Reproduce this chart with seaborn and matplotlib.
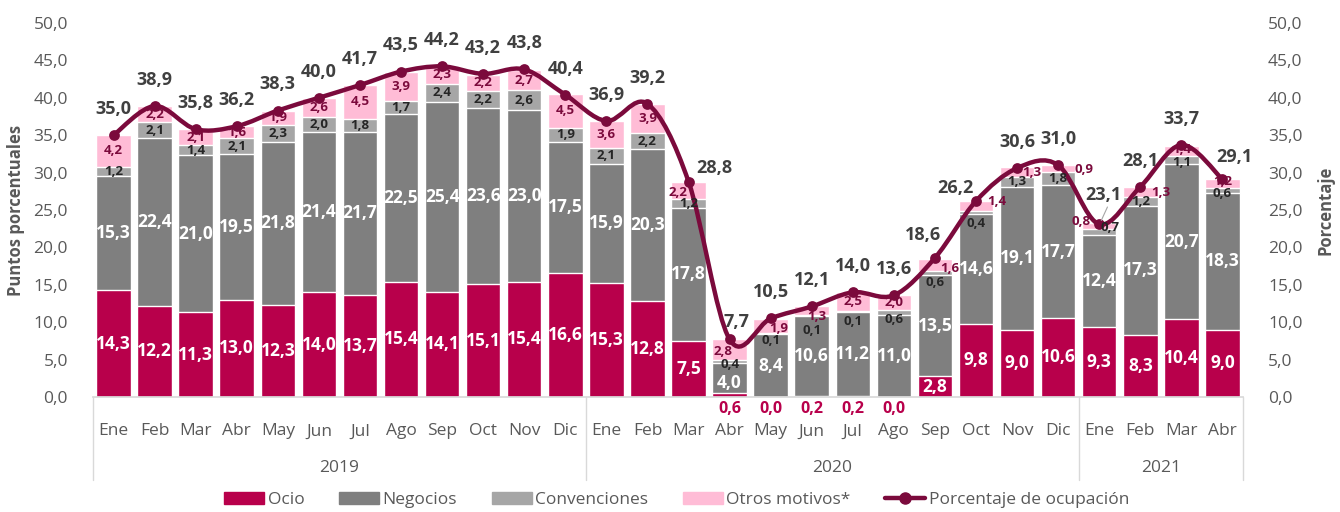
import numpy as np
import pandas as pd
import matplotlib
matplotlib.use("Agg")
import matplotlib.pyplot as plt
import matplotlib.transforms as mtransforms
from matplotlib.path import Path
from matplotlib.patches import PathPatch, Patch
from matplotlib.lines import Line2D
import seaborn as sns

# data
meses = ["Ene", "Feb", "Mar", "Abr", "May", "Jun", "Jul", "Ago", "Sep", "Oct", "Nov", "Dic",
         "Ene", "Feb", "Mar", "Abr", "May", "Jun", "Jul", "Ago", "Sep", "Oct", "Nov", "Dic",
         "Ene", "Feb", "Mar", "Abr"]
anios = ["2019"] * 12 + ["2020"] * 12 + ["2021"] * 4
ocio = [14.3, 12.2, 11.3, 13.0, 12.3, 14.0, 13.7, 15.4, 14.1, 15.1, 15.4, 16.6,
        15.3, 12.8, 7.5, 0.6, 0.0, 0.2, 0.2, 0.0, 2.8, 9.8, 9.0, 10.6,
        9.3, 8.3, 10.4, 9.0]
negocios = [15.3, 22.4, 21.0, 19.5, 21.8, 21.4, 21.7, 22.5, 25.4, 23.6, 23.0, 17.5,
            15.9, 20.3, 17.8, 4.0, 8.4, 10.6, 11.2, 11.0, 13.5, 14.6, 19.1, 17.7,
            12.4, 17.3, 20.7, 18.3]
convenciones = [1.2, 2.1, 1.4, 2.1, 2.3, 2.0, 1.8, 1.7, 2.4, 2.2, 2.6, 1.9,
                2.1, 2.2, 1.2, 0.4, 0.1, 0.1, 0.1, 0.6, 0.6, 0.4, 1.3, 1.8,
                0.7, 1.2, 1.1, 0.6]
otros = [4.2, 2.2, 2.1, 1.6, 1.9, 2.6, 4.5, 3.9, 2.3, 2.2, 2.7, 4.5,
         3.6, 3.9, 2.2, 2.8, 1.9, 1.3, 2.5, 2.0, 1.6, 1.4, 1.3, 0.9,
         0.8, 1.3, 1.4, 1.2]
ocupacion = [35.0, 38.9, 35.8, 36.2, 38.3, 40.0, 41.7, 43.5, 44.2, 43.2, 43.8, 40.4,
             36.9, 39.2, 28.8, 7.7, 10.5, 12.1, 14.0, 13.6, 18.6, 26.2, 30.6, 31.0,
             23.1, 28.1, 33.7, 29.1]

C_OCIO = "#B8004B"
C_NEG = "#7F7F7F"
C_CONV = "#A6A6A6"
C_OTROS = "#FFBCD6"
C_LINE = "#7B0A3C"
C_TXT = "#595959"
C_LAB = "#404040"

sns.set_theme(style="white")
plt.rcParams["font.family"] = ["Open Sans", "DejaVu Sans"]

def fmt(v):
    return f"{v:.1f}".replace(".", ",")

df = pd.DataFrame({"mes": meses, "anio": anios, "ocio": ocio, "neg": negocios,
                   "conv": convenciones, "otros": otros, "ocup": ocupacion})
df["key"] = df["anio"] + "-" + df["mes"]
df["c1"] = df["ocio"]
df["c2"] = df["c1"] + df["neg"]
df["c3"] = df["c2"] + df["conv"]
df["c4"] = df["c3"] + df["otros"]
n = len(df)
xs = np.arange(n)

fig = plt.figure(figsize=(13.4, 5.12), dpi=100)
ax = fig.add_axes([0.0694, 0.2246, 0.8582, 0.7305])

order = list(df["key"])
for col, color in [("c4", C_OTROS), ("c3", C_CONV), ("c2", C_NEG), ("c1", C_OCIO)]:
    sns.barplot(data=df, x="key", y=col, order=order, color=color, saturation=1,
                width=0.84, errorbar=None, ax=ax, zorder=2)

# smooth line (bezier through the points, like excel smoothing)
y = df["ocup"].values
pts = np.column_stack([xs, y])
verts = [tuple(pts[0])]
codes = [Path.MOVETO]
for i in range(n - 1):
    p_prev = pts[i - 1] if i > 0 else pts[i]
    p_next = pts[i + 2] if i + 2 < n else pts[i + 1]
    c1 = pts[i] + (pts[i + 1] - p_prev) / 6
    c2 = pts[i + 1] - (p_next - pts[i]) / 6
    verts += [tuple(c1), tuple(c2), tuple(pts[i + 1])]
    codes += [Path.CURVE4] * 3
ax.add_patch(PathPatch(Path(verts, codes), fill=False, lw=3.2, edgecolor=C_LINE,
                       capstyle="round", joinstyle="round", zorder=5))
sns.scatterplot(x=xs, y=y, color=C_LINE, s=60, edgecolor=C_LINE, linewidth=0, zorder=6, ax=ax)

# labels: ocio
for i, v in enumerate(df["ocio"]):
    if v >= 2:
        ax.text(i, v / 2, fmt(v), ha="center", va="center", color="white",
                fontsize=12.5, fontweight="bold", zorder=7)
    else:
        ax.text(i, -1.6, fmt(v), ha="center", va="center", color=C_OCIO,
                fontsize=11.5, fontweight="bold", zorder=7, clip_on=False)

# labels: negocios
neg_nudge = {15: -0.7}
for i, v in enumerate(df["neg"]):
    ax.text(i, df["c1"][i] + v / 2 + neg_nudge.get(i, 0), fmt(v), ha="center", va="center",
            color="white", fontsize=12.5, fontweight="bold", zorder=7)

# labels: convenciones
conv_nudge = {15: (0, -0.45), 16: (0, -0.9), 17: (0, -2.0), 18: (0, -1.3), 19: (0, -0.9),
              20: (0, -1.3), 21: (0, -1.4), 24: (0.25, 0.6), 26: (0, -0.3), 27: (0, -0.35)}
for i, v in enumerate(df["conv"]):
    dx, dy = conv_nudge.get(i, (0, 0))
    ax.text(i + dx, df["c2"][i] + v / 2 + dy, fmt(v), ha="center", va="center",
            color="#262626", fontsize=9.5, fontweight="bold", zorder=7)

# labels: otros motivos
otros_nudge = {14: (-0.25, -0.3), 15: (-0.15, -0.3), 16: (0.2, -0.25), 17: (0.12, -0.8),
               20: (0.35, -0.5), 21: (0.5, 0.6), 22: (0.35, -0.1), 23: (0.62, -0.2),
               24: (-0.45, 0.6), 25: (0.5, -0.1), 26: (0, 0.25), 27: (0, 0.25)}
for i, v in enumerate(df["otros"]):
    dx, dy = otros_nudge.get(i, (0, 0))
    ax.text(i + dx, df["c3"][i] + v / 2 + dy, fmt(v), ha="center", va="center",
            color=C_LINE, fontsize=9.5, fontweight="bold", zorder=7)

# labels: ocupacion
line_nudge = {14: (0.63, 1.8), 15: (0.17, 2.3), 20: (-0.3, 3.1), 21: (-0.5, 1.7),
              24: (0.1, 3.9), 27: (0.3, 3.0)}
for i, v in enumerate(y):
    dx, dy = line_nudge.get(i, (0, 3.5))
    ax.text(i + dx, v + dy, fmt(v), ha="center", va="center", color=C_LAB,
            fontsize=13, fontweight="bold", zorder=8)
ax.plot([24.05, 24.2], [23.6, 25.4], color="#A6A6A6", lw=0.8, zorder=8)

ax.set_xlim(-0.5, n - 0.5)
ax.set_ylim(0, 50)
ticks = np.arange(0, 50.1, 5)
ax.set_yticks(ticks)
ax.set_yticklabels([fmt(t) for t in ticks], color=C_TXT, fontsize=12.5)
ax.set_xticks(xs)
ax.set_xticklabels(df["mes"], color=C_TXT, fontsize=12.5)
ax.tick_params(axis="x", length=0, pad=19)
ax.tick_params(axis="y", length=0, pad=18)
ax.set_xlabel("")
ax.set_ylabel("Puntos porcentuales", color=C_TXT, fontsize=12, fontweight="bold", labelpad=6)
for s in ["top", "right", "left"]:
    ax.spines[s].set_visible(False)
ax.spines["bottom"].set_color("#D9D9D9")
ax.grid(False)

ax2 = ax.twinx()
ax2.set_ylim(0, 50)
ax2.set_yticks(ticks)
ax2.set_yticklabels([fmt(t) for t in ticks], color=C_TXT, fontsize=12.5)
ax2.tick_params(axis="y", length=0, pad=18)
ax2.set_ylabel("Porcentaje", color=C_TXT, fontsize=12, fontweight="bold", labelpad=10)
for s in ax2.spines.values():
    s.set_visible(False)
ax2.grid(False)

# year groups under the months
trans = mtransforms.blended_transform_factory(ax.transData, ax.transAxes)
bounds = [-0.5, 11.5, 23.5, n - 0.5]
for b in bounds:
    ax.plot([b, b], [0, -0.222], transform=trans, color="#D9D9D9", lw=1, clip_on=False)
for lo, hi, lab in zip(bounds[:-1], bounds[1:], ["2019", "2020", "2021"]):
    ax.text((lo + hi) / 2, -0.19, lab, transform=trans, ha="center", va="center",
            color=C_TXT, fontsize=12.5)

handles = [Patch(color=C_OCIO), Patch(color=C_NEG), Patch(color=C_CONV), Patch(color=C_OTROS),
           Line2D([], [], color=C_LINE, lw=3.2, marker="o", markersize=8)]
labels = ["Ocio", "Negocios", "Convenciones", "Otros motivos*", "Porcentaje de ocupación"]
leg = fig.legend(handles, labels, loc="center", bbox_to_anchor=(0.505, 0.023), ncol=5,
                 frameon=False, fontsize=12.5, handlelength=2.3, handleheight=0.7,
                 handletextpad=0.2, columnspacing=2.0)
for t in leg.get_texts():
    t.set_color(C_TXT)

fig.savefig("out.png", dpi=100)
